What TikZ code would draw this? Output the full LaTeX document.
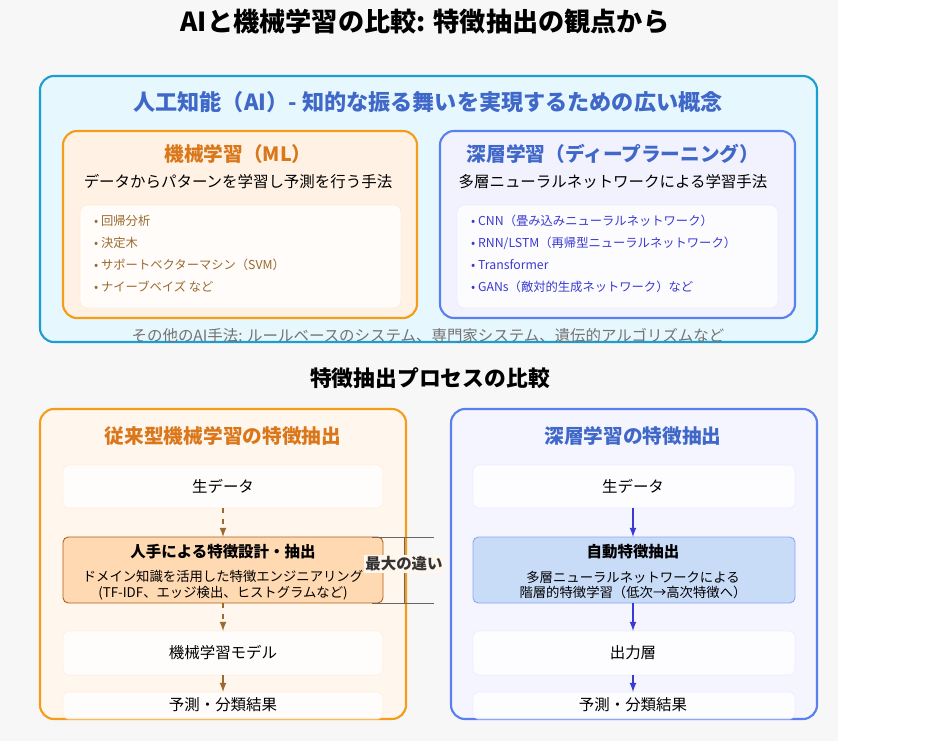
\documentclass[tikz,border=0pt]{standalone}
\usepackage{fontspec}
\setmainfont{Noto Sans CJK JP}
\begin{document}
\begin{tikzpicture}
	[x=0.02cm,y=-0.02cm,
	panel/.style={rectangle,rounded corners=8pt,line width=1.2pt},
	inner/.style={rectangle,rounded corners=4pt,draw=orange!15,line width=0.5pt,fill=white!60!orange!5},
	stepbox/.style={rectangle,rounded corners=3pt,draw=orange!15,fill=white,line width=0.5pt,opacity=0.8},
	item/.style={anchor=west,font=\fontsize{7}{8}\selectfont},
	head/.style={font=\bfseries\fontsize{11.2}{13}\selectfont},
	sub/.style={font=\fontsize{8.8}{10}\selectfont},
	mlarrow/.style={-latex,thick,dashed,draw=mlbrown},
	dlarrow/.style={-latex,thick,draw=dlarr}
	]
	\definecolor{aiblue}{HTML}{1A9FD0}
	\definecolor{mlorange}{HTML}{F59C1A}
	\definecolor{mltext}{HTML}{D9771A}
	\definecolor{dlblue}{HTML}{5A80F0}
	\definecolor{dltext}{HTML}{3F68C8}
	\definecolor{mlbrown}{HTML}{9A6A30}
	\definecolor{dlarr}{HTML}{3A3AD0}
	\definecolor{dlfeat}{HTML}{C8DCF8}
	\useasboundingbox (0,0) rectangle (930,741);
	\fill[black!3] (0,0) rectangle (838,741);

	\node[font=\bfseries\fontsize{14.9}{17}\selectfont] (title) at (425,22){AIと機械学習の比較: 特徴抽出の観点から};

	% AI panel
	\draw[panel,draw=aiblue,fill=cyan!10] (40,76) rectangle (817,342);
	\node[text=dltext,font=\bfseries\fontsize{12.6}{14}\selectfont] (aihead) at (428,102){人工知能（AI）- 知的な振る舞いを実現するための広い概念};

	\draw[panel,draw=mlorange,fill=orange!10] (63,131) rectangle (417,318);
	\node[head,text=mltext] (mlhead) at (238,154){機械学習（ML）};
	\node[sub] (mlsub) at (238,182){データからパターンを学習し予測を行う手法};
	\draw[inner] (80,205) rectangle (401,308);
	\node[item,text=mlbrown] (ml1) at (88,221){• 回帰分析};
	\node[item,text=mlbrown] (ml2) at (88,243){• 決定木};
	\node[item,text=mlbrown] (ml3) at (88,265){• サポートベクターマシン（SVM）};
	\node[item,text=mlbrown] (ml4) at (88,287){• ナイーブベイズ など};

	\draw[panel,draw=dlblue,fill=blue!5] (440,131) rectangle (795,318);
	\node[head,text=dltext] (dlhead) at (613,154){深層学習（ディープラーニング）};
	\node[sub] (dlsub) at (613,182){多層ニューラルネットワークによる学習手法};
	\draw[inner,draw=blue!8,fill=white!70!blue!4] (457,205) rectangle (778,308);
	\node[item,text=dlarr] (dl1) at (465,221){• CNN（畳み込みニューラルネットワーク）};
	\node[item,text=dlarr] (dl2) at (465,243){• RNN/LSTM（再帰型ニューラルネットワーク）};
	\node[item,text=dlarr] (dl3) at (465,265){• Transformer};
	\node[item,text=dlarr] (dl4) at (465,287){• GANs（敵対的生成ネットワーク）など};

	\node[sub,text=black!55] (other) at (428,336){その他のAI手法: ルールベースのシステム、専門家システム、遺伝的アルゴリズムなど};

	\node[font=\bfseries\fontsize{12.4}{14}\selectfont] (cmp) at (430,378){特徴抽出プロセスの比較};

	% traditional ML
	\draw[panel,draw=mlorange,fill=orange!7] (40,409) rectangle (406,719);
	\node[head,text=mltext] (lhead) at (223,436){従来型機械学習の特徴抽出};
	\draw[stepbox] (63,465) rectangle (383,508);
	\node[sub] (lraw) at (223,486){生データ};
	\draw[stepbox,draw=mltext!80!black,fill=orange!30,opacity=1] (63,537) rectangle (383,603);
	\node[sub,font=\bfseries\fontsize{8.8}{10}\selectfont] (lfeat) at (223,552){人手による特徴設計・抽出};
	\node[sub,font=\fontsize{7.6}{8.8}\selectfont,align=center] (lfeatd) at (223,585){ドメイン知識を活用した特徴エンジニアリング\\(TF-IDF、エッジ検出、ヒストグラムなど)};
	\draw[stepbox] (63,631) rectangle (383,675);
	\node[sub] (lmodel) at (223,653){機械学習モデル};
	\draw[stepbox] (63,692) rectangle (383,719);
	\node[sub] (lres) at (223,705){予測・分類結果};
	\draw[mlarrow] (223,508) -- (223,537);
	\draw[mlarrow] (223,603) -- (223,631);
	\draw[-latex,thick,draw=mlbrown] (223,675) -- (223,692);

	% bracket
	\draw[black!60,thin] (372,537) -- (434,537) (372,603) -- (434,603) (404,537) -- (404,603);
	\node[sub,font=\bfseries\fontsize{8.8}{10}\selectfont,text=black!80,fill=orange!7,inner sep=1pt] (diff) at (404,564){最大の違い};

	% deep learning
	\draw[panel,draw=dlblue,fill=blue!4] (451,409) rectangle (817,719);
	\node[head,text=dltext] (rhead) at (633,436){深層学習の特徴抽出};
	\draw[stepbox,draw=blue!8] (473,465) rectangle (795,508);
	\node[sub] (rraw) at (633,486){生データ};
	\draw[stepbox,draw=dlblue!70,fill=dlfeat,opacity=1] (473,537) rectangle (795,603);
	\node[sub,font=\bfseries\fontsize{8.8}{10}\selectfont] (rfeat) at (633,552){自動特徴抽出};
	\node[sub,font=\fontsize{7.6}{8.8}\selectfont,align=center] (rfeatd) at (633,585){多層ニューラルネットワークによる\\階層的特徴学習（低次→高次特徴へ）};
	\draw[stepbox,draw=blue!8] (473,631) rectangle (795,675);
	\node[sub] (rout) at (633,653){出力層};
	\draw[stepbox,draw=blue!8] (473,692) rectangle (795,719);
	\node[sub] (rres) at (633,705){予測・分類結果};
	\draw[dlarrow] (633,508) -- (633,537);
	\draw[dlarrow] (633,603) -- (633,631);
	\draw[dlarrow] (633,675) -- (633,692);
\end{tikzpicture}
\end{document}
